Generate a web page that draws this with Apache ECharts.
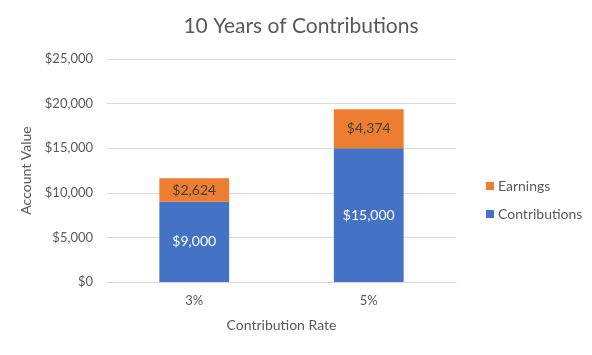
<!DOCTYPE html>
<html><head><meta charset="utf-8">
<script src="https://cdn.jsdelivr.net/npm/echarts@6/dist/echarts.min.js"></script>
<style>html,body{margin:0;padding:0;background:#fff}#c{width:592px;height:355px}</style>
</head><body><div id="c"></div>
<script>
const categories = ['3%', '5%'];
const contributions = [9000, 15000];
const earnings = [2624, 4374];
const yTicks = [0, 5000, 10000, 15000, 20000, 25000];

const fmt = v => '$' + v.toLocaleString('en-US');
const font = 'Lato, "Open Sans", sans-serif';
const chart = echarts.init(document.getElementById('c'));
chart.setOption({
  animation: false,
  backgroundColor: '#fff',
  textStyle: { fontFamily: font },
  title: {
    text: '10 Years of Contributions', left: 296, top: 11, textAlign: 'center',
    textStyle: { fontFamily: font, fontSize: 21, fontWeight: 'normal', color: '#595959' }
  },
  legend: {
    orient: 'vertical', left: 481, top: 174, itemWidth: 8, itemHeight: 8, itemGap: 14,
    icon: 'rect',
    data: ['Earnings', 'Contributions'],
    textStyle: { fontFamily: font, fontSize: 14, color: '#595959', padding: [0, 0, 0, -1] }
  },
  grid: { left: 107, right: 136, top: 59, bottom: 73 },
  xAxis: {
    type: 'category', data: categories,
    name: 'Contribution Rate', nameLocation: 'middle', nameGap: 36,
    nameTextStyle: { fontFamily: font, fontSize: 14, color: '#595959' },
    axisLine: { show: true, lineStyle: { color: '#d9d9d9' } },
    axisTick: { show: false },
    axisLabel: { fontFamily: font, fontSize: 13, color: '#595959', margin: 12 }
  },
  yAxis: {
    type: 'value', min: yTicks[0], max: yTicks[yTicks.length - 1], interval: 5000,
    name: 'Account Value', nameLocation: 'middle', nameGap: 68, nameRotate: 90,
    nameTextStyle: { fontFamily: font, fontSize: 14, color: '#595959' },
    axisLine: { show: false }, axisTick: { show: false },
    splitLine: { lineStyle: { color: '#d9d9d9' } },
    axisLabel: { fontFamily: font, fontSize: 13, color: '#595959', margin: 14, formatter: fmt }
  },
  series: [
    {
      name: 'Contributions', type: 'bar', stack: 'a', data: contributions, barWidth: '40%',
      itemStyle: { color: '#4472C4' },
      label: { show: true, position: 'inside', formatter: p => fmt(p.value), color: '#fff', fontFamily: font, fontSize: 14 }
    },
    {
      name: 'Earnings', type: 'bar', stack: 'a', data: earnings, barWidth: '40%',
      itemStyle: { color: '#ED7D31' },
      label: { show: true, position: 'inside', formatter: p => fmt(p.value), color: '#404040', fontFamily: font, fontSize: 14 }
    }
  ]
});
</script></body></html>
